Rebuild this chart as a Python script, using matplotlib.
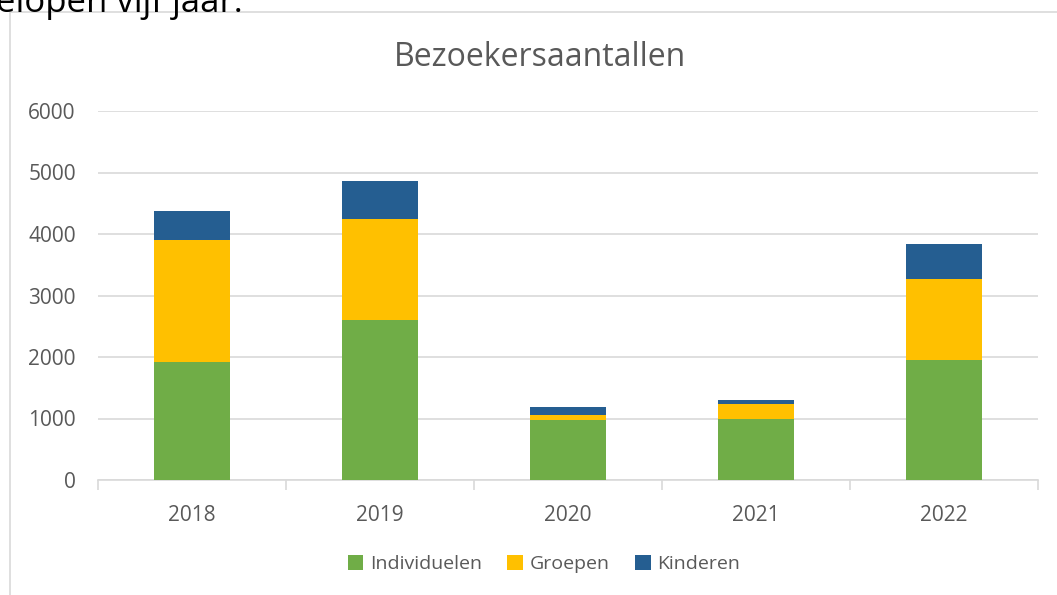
import matplotlib.pyplot as plt
import matplotlib.patches as mpatches
import numpy as np

plt.rcParams['font.family'] = ['Open Sans', 'DejaVu Sans']

jaren = ['2018', '2019', '2020', '2021', '2022']
individuelen = [1920, 2600, 980, 990, 1950]
groepen = [1980, 1640, 80, 240, 1320]
kinderen = [470, 620, 120, 75, 560]

W, H = 1057, 595
fig = plt.figure(figsize=(W / 100, H / 100), dpi=100)

# chart frame (cut off at right/bottom, like the screenshot)
fig.patches.append(mpatches.Rectangle((9.5 / W, -0.05), 1.1, 1 - 11.5 / H + 0.05,
                                      transform=fig.transFigure, fill=False,
                                      edgecolor='#d9d9d9', linewidth=1.2))
# leftover text from the document above the chart
fig.text(-4 / W, 1 - 12 / H, 'elopen vijf jaar.', fontsize=25, color='black',
         va='baseline', ha='left')

ax = fig.add_axes([98 / W, 1 - 480 / H, 940 / W, (480 - 111) / H])
x = np.arange(len(jaren))
w = 0.405
ind = np.array(individuelen)
grp = np.array(groepen)
kin = np.array(kinderen)
ax.bar(x, ind, w, color='#70ad47', label='Individuelen', zorder=3)
ax.bar(x, grp, w, bottom=ind, color='#ffc000', label='Groepen', zorder=3)
ax.bar(x, kin, w, bottom=ind + grp, color='#255e91', label='Kinderen', zorder=3)

ax.set_xlim(-0.5, len(jaren) - 0.5)
ax.set_ylim(0, 6000)
ax.set_yticks(range(0, 6001, 1000))
ax.grid(axis='y', color='#d9d9d9', linewidth=1.2, zorder=0)
for s in ['top', 'right', 'left']:
    ax.spines[s].set_visible(False)
ax.spines['bottom'].set_color('#d9d9d9')
ax.spines['bottom'].set_linewidth(1.2)

ax.set_xticks(x)
ax.set_xticklabels(jaren)
ax.set_xticks(np.arange(-0.5, len(jaren)), minor=True)
ax.tick_params(axis='x', which='major', length=0, pad=18, labelsize=15, labelcolor='#595959')
ax.tick_params(axis='x', which='minor', length=7, color='#d9d9d9', width=1.2)
ax.tick_params(axis='y', length=0, pad=16, labelsize=15, labelcolor='#595959')

fig.text(540 / W, 1 - 57 / H, 'Bezoekersaantallen', fontsize=23, color='#595959',
         ha='center', va='center')

leg = fig.legend(loc='center', bbox_to_anchor=(544 / W, 1 - 564 / H), ncol=3,
                 frameon=False, fontsize=14, handlelength=0.8, handleheight=0.8,
                 handletextpad=0.35, columnspacing=1.3, labelcolor='#595959')

fig.savefig('out.png', dpi=100)
